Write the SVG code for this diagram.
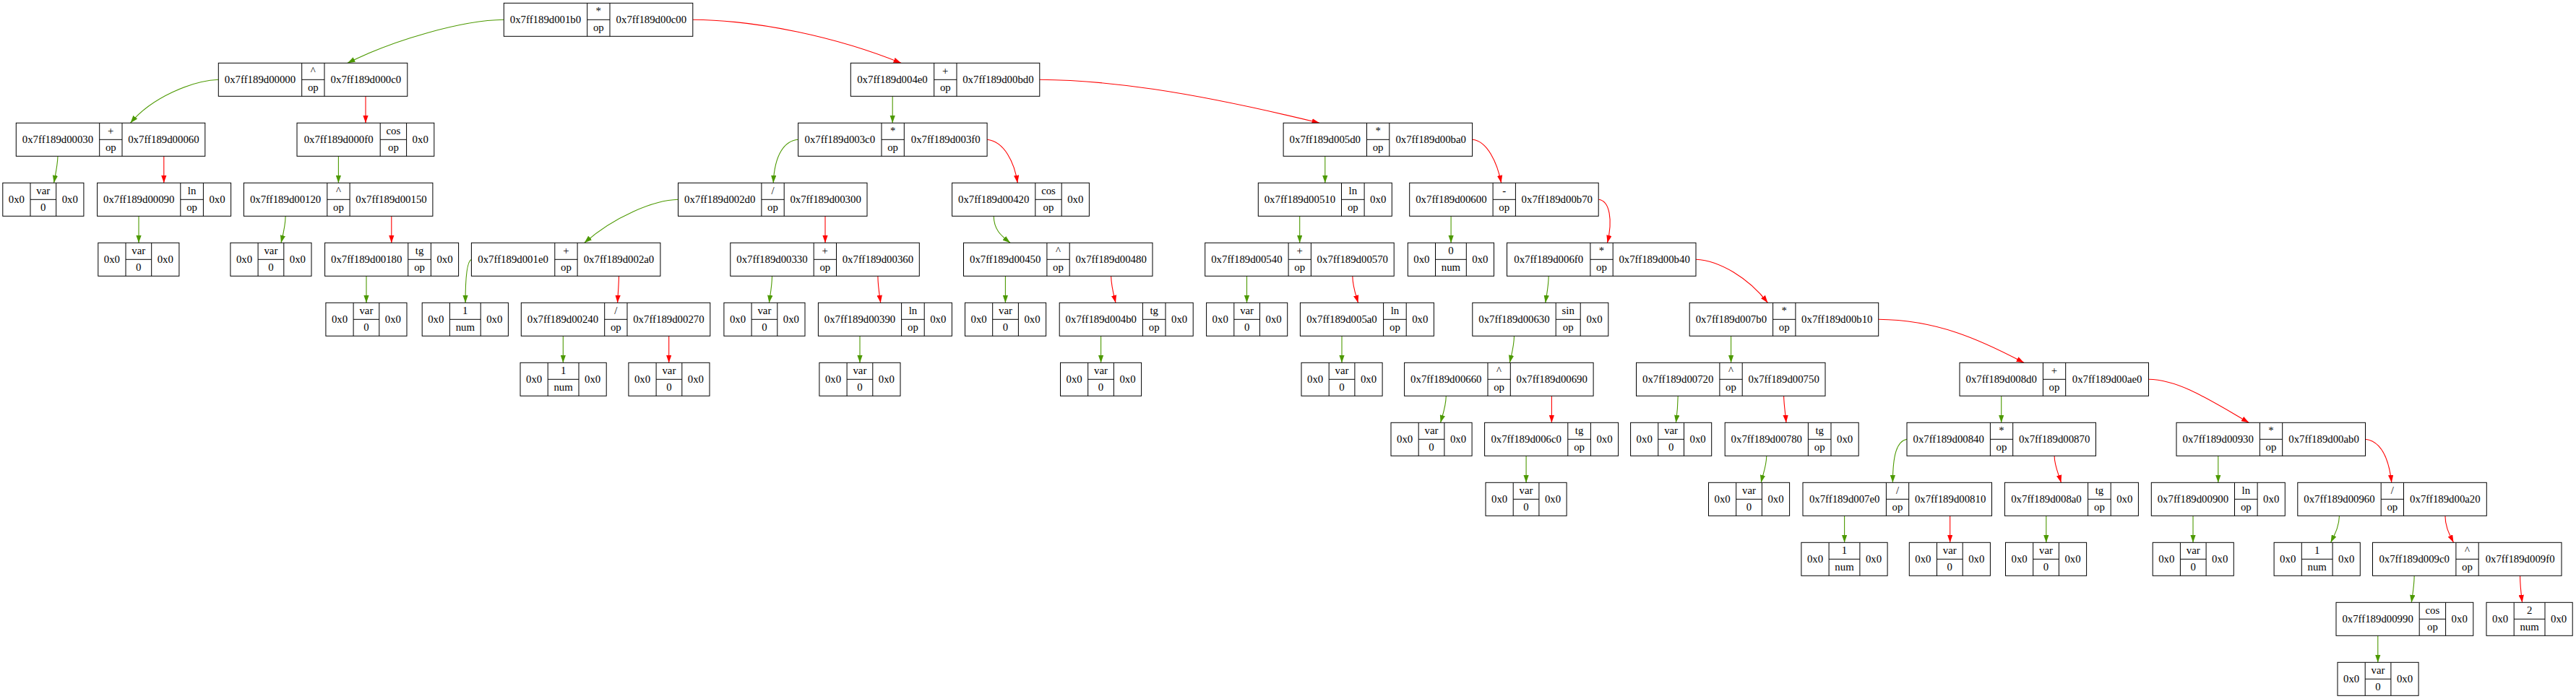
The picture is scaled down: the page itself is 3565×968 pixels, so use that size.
<svg xmlns="http://www.w3.org/2000/svg" xmlns:xlink="http://www.w3.org/1999/xlink" width="3565" height="968" viewBox="0 0 3565 968">
<style>
text{font-family:"Liberation Serif","Times New Roman",serif;font-size:14.8px;text-anchor:middle;fill:#000}
.g{fill:none;stroke:#4c9900;stroke-width:1.1;marker-end:url(#ag)}
.r{fill:none;stroke:#ff0000;stroke-width:1.1;marker-end:url(#ar)}
</style>
<defs>
<marker id="ag" viewBox="0 0 10 7" refX="10" refY="3.5" markerWidth="10.5" markerHeight="7.4" markerUnits="userSpaceOnUse" orient="auto"><path d="M0,0L10,3.5L0,7z" fill="#4c9900"/></marker>
<marker id="ar" viewBox="0 0 10 7" refX="10" refY="3.5" markerWidth="10.5" markerHeight="7.4" markerUnits="userSpaceOnUse" orient="auto"><path d="M0,0L10,3.5L0,7z" fill="#ff0000"/></marker>
<g id="fbin"><rect width="261.5" height="46" fill="#fff" stroke="#000"/><path d="M115.4,0V46M146.7,0V46M115.4,23H146.7" fill="none" stroke="#000"/></g>
<g id="fun"><rect width="185" height="46" fill="#fff" stroke="#000"/><path d="M115.2,0V46M146.8,0V46M115.2,23H146.8" fill="none" stroke="#000"/></g>
<g id="fcos"><rect width="189.8" height="46" fill="#fff" stroke="#000"/><path d="M115.2,0V46M151.6,0V46M115.2,23H151.6" fill="none" stroke="#000"/></g>
<g id="fsin"><rect width="188" height="46" fill="#fff" stroke="#000"/><path d="M115.4,0V46M149.4,0V46M115.4,23H149.4" fill="none" stroke="#000"/></g>
<g id="fvar"><rect width="112.1" height="46" fill="#fff" stroke="#000"/><path d="M38.2,0V46M73.9,0V46M38.2,23H73.9" fill="none" stroke="#000"/></g>
<g id="fnum"><rect width="119.2" height="46" fill="#fff" stroke="#000"/><path d="M38.2,0V46M81,0V46M38.2,23H81" fill="none" stroke="#000"/></g>
</defs>
<rect width="3565" height="968" fill="#fff"/>

<g id="edges">
<path class="g" d="M697.3,27.3C640,28 545,55 481,87.3"/>
<path class="r" d="M958.8,27.3C1050,28 1160,52 1247,87.3"/>
<path class="g" d="M302.3,110.3C265,112 210,135 180.5,170.3"/>
<path class="r" d="M506,133.3L506,170.3"/>
<path class="r" d="M1438.8,110.3C1530,111 1640,125 1826,170.3"/>
<path class="g" d="M1235.2,133.3L1235.2,170.3"/>
<path class="g" d="M80,216.3C79.5,230 77,240 74.6,253.3"/>
<path class="r" d="M226.8,216.3L226.8,253.3"/>
<path class="g" d="M468.4,216.3L468.4,253.3"/>
<path class="g" d="M1104.6,193.3C1085,195 1072,215 1070.2,253.3"/>
<path class="r" d="M1366.1,193.3C1390,196 1404,225 1408.2,253.3"/>
<path class="g" d="M1833.8,216.3L1833.8,253.3"/>
<path class="r" d="M2037.6,193.3C2058,195 2072,225 2077.6,253.3"/>
<path class="g" d="M192,299.3L192,336.3"/>
<path class="g" d="M395.1,299.3C395.1,312 392,324 389,336.3"/>
<path class="r" d="M541.8,299.3L541.8,336.3"/>
<path class="g" d="M938.5,276.3C905,277 850,300 808.7,336.3"/>
<path class="r" d="M1142,299.3L1142,336.3"/>
<path class="g" d="M1375.2,299.3C1375.5,318 1385,326 1398,336.3"/>
<path class="g" d="M1798.7,299.3L1798.7,336.3"/>
<path class="g" d="M2008.1,299.3L2008.1,336.3"/>
<path class="r" d="M2212.2,276.3C2228,278 2232,305 2224.5,336.3"/>
<path class="g" d="M507,382.3L507,419.3"/>
<path class="g" d="M652.4,359.3C646,362 644,390 644.1,419.3"/>
<path class="r" d="M856.5,382.3C856.3,395 855.3,405 854.6,419.3"/>
<path class="g" d="M1068.5,382.3C1068.3,397 1066,407 1064.4,419.3"/>
<path class="r" d="M1214.9,382.3C1215,397 1217,407 1218.7,419.3"/>
<path class="g" d="M1391.4,382.3L1391.4,419.3"/>
<path class="r" d="M1537.6,382.3C1538,397 1541,407 1544,419.3"/>
<path class="g" d="M1725.5,382.3L1725.5,419.3"/>
<path class="r" d="M1871.8,382.3C1872,397 1876,407 1879.5,419.3"/>
<path class="g" d="M2143.2,382.3C2143,397 2140.5,407 2138.8,419.3"/>
<path class="r" d="M2347,359.3C2380,361 2420,385 2446.4,419.3"/>
<path class="g" d="M779.3,465.3L779.3,502.3"/>
<path class="r" d="M925.7,465.3L925.7,502.3"/>
<path class="g" d="M1190,465.3L1190,502.3"/>
<path class="g" d="M1523.6,465.3L1523.6,502.3"/>
<path class="g" d="M1857,465.3L1857,502.3"/>
<path class="g" d="M2095.5,465.3C2095.3,480 2092,490 2089.3,502.3"/>
<path class="g" d="M2395.6,465.3L2395.6,502.3"/>
<path class="r" d="M2599.7,442.3C2680,443 2740,470 2801,502.3"/>
<path class="g" d="M2001.3,548.3C2001,563 1997,573 1993.6,585.3"/>
<path class="r" d="M2147.4,548.3L2147.4,585.3"/>
<path class="g" d="M2322.2,548.3C2322,563 2321,573 2319.4,585.3"/>
<path class="r" d="M2468.6,548.3C2469,563 2471,573 2471.9,585.3"/>
<path class="g" d="M2769.7,548.3L2769.7,585.3"/>
<path class="r" d="M2973.5,525.3C3015,526 3055,552 3112.3,585.3"/>
<path class="g" d="M2112.1,631.3L2112.1,668.3"/>
<path class="g" d="M2444.8,631.3C2444.5,646 2440,656 2437.2,668.3"/>
<path class="g" d="M2639,608.3C2625,611 2619.5,630 2619.4,668.3"/>
<path class="r" d="M2843.1,631.3C2843.3,646 2849,656 2852.4,668.3"/>
<path class="g" d="M3069.8,631.3L3069.8,668.3"/>
<path class="r" d="M3273.5,608.3C3295,611 3306,635 3309.8,668.3"/>
<path class="g" d="M2552.6,714.3L2552.6,751.3"/>
<path class="r" d="M2698.7,714.3L2698.7,751.3"/>
<path class="g" d="M2831.8,714.3L2831.8,751.3"/>
<path class="g" d="M3035,714.3L3035,751.3"/>
<path class="g" d="M3237.5,714.3C3237,730 3231,740 3225.6,751.3"/>
<path class="r" d="M3383.9,714.3C3384,730 3390,740 3395.5,751.3"/>
<path class="g" d="M3341.2,797.3C3341,812 3339,822 3337.3,834.3"/>
<path class="r" d="M3487.6,797.3C3487.6,812 3489,822 3490.6,834.3"/>
<path class="g" d="M3290.8,880.3L3290.8,917.3"/>
</g>

<g id="n001b0" transform="translate(697.3,4.3)"><use xlink:href="#fbin"/><text x="57.7" y="28">0x7ff189d001b0</text><text x="131" y="16">*</text><text x="131" y="39">op</text><text x="204.1" y="28">0x7ff189d00c00</text></g>
<g id="n00000" transform="translate(302.3,87.3)"><use xlink:href="#fbin"/><text x="57.7" y="28">0x7ff189d00000</text><text x="131" y="16">^</text><text x="131" y="39">op</text><text x="204.1" y="28">0x7ff189d000c0</text></g>
<g id="n004e0" transform="translate(1177.3,87.3)"><use xlink:href="#fbin"/><text x="57.7" y="28">0x7ff189d004e0</text><text x="131" y="16">+</text><text x="131" y="39">op</text><text x="204.1" y="28">0x7ff189d00bd0</text></g>
<g id="n00030" transform="translate(22.3,170.3)"><use xlink:href="#fbin"/><text x="57.7" y="28">0x7ff189d00030</text><text x="131" y="16">+</text><text x="131" y="39">op</text><text x="204.1" y="28">0x7ff189d00060</text></g>
<g id="n000f0" transform="translate(411,170.3)"><use xlink:href="#fcos"/><text x="57.6" y="28">0x7ff189d000f0</text><text x="133.4" y="16">cos</text><text x="133.4" y="39">op</text><text x="170.7" y="28">0x0</text></g>
<g id="n003c0" transform="translate(1104.6,170.3)"><use xlink:href="#fbin"/><text x="57.7" y="28">0x7ff189d003c0</text><text x="131" y="16">*</text><text x="131" y="39">op</text><text x="204.1" y="28">0x7ff189d003f0</text></g>
<g id="n005d0" transform="translate(1776.1,170.3)"><use xlink:href="#fbin"/><text x="57.7" y="28">0x7ff189d005d0</text><text x="131" y="16">*</text><text x="131" y="39">op</text><text x="204.1" y="28">0x7ff189d00ba0</text></g>

<g id="v1" transform="translate(3.8,253.3)"><use xlink:href="#fvar"/><text x="19.1" y="28">0x0</text><text x="56" y="16">var</text><text x="56" y="39">0</text><text x="93" y="28">0x0</text></g>
<g id="n00090" transform="translate(134.6,253.3)"><use xlink:href="#fun"/><text x="57.6" y="28">0x7ff189d00090</text><text x="131" y="16">ln</text><text x="131" y="39">op</text><text x="165.9" y="28">0x0</text></g>
<g id="n00120" transform="translate(337.4,253.3)"><use xlink:href="#fbin"/><text x="57.7" y="28">0x7ff189d00120</text><text x="131" y="16">^</text><text x="131" y="39">op</text><text x="204.1" y="28">0x7ff189d00150</text></g>
<g id="n002d0" transform="translate(938.5,253.3)"><use xlink:href="#fbin"/><text x="57.7" y="28">0x7ff189d002d0</text><text x="131" y="16">/</text><text x="131" y="39">op</text><text x="204.1" y="28">0x7ff189d00300</text></g>
<g id="n00420" transform="translate(1317.6,253.3)"><use xlink:href="#fcos"/><text x="57.6" y="28">0x7ff189d00420</text><text x="133.4" y="16">cos</text><text x="133.4" y="39">op</text><text x="170.7" y="28">0x0</text></g>
<g id="n00510" transform="translate(1741.3,253.3)"><use xlink:href="#fun"/><text x="57.6" y="28">0x7ff189d00510</text><text x="131" y="16">ln</text><text x="131" y="39">op</text><text x="165.9" y="28">0x0</text></g>
<g id="n00600" transform="translate(1950.7,253.3)"><use xlink:href="#fbin"/><text x="57.7" y="28">0x7ff189d00600</text><text x="131" y="16">-</text><text x="131" y="39">op</text><text x="204.1" y="28">0x7ff189d00b70</text></g>

<g id="v2" transform="translate(135.8,336.3)"><use xlink:href="#fvar"/><text x="19.1" y="28">0x0</text><text x="56" y="16">var</text><text x="56" y="39">0</text><text x="93" y="28">0x0</text></g>
<g id="v3" transform="translate(318.9,336.3)"><use xlink:href="#fvar"/><text x="19.1" y="28">0x0</text><text x="56" y="16">var</text><text x="56" y="39">0</text><text x="93" y="28">0x0</text></g>
<g id="n00180" transform="translate(449.6,336.3)"><use xlink:href="#fun"/><text x="57.6" y="28">0x7ff189d00180</text><text x="131" y="16">tg</text><text x="131" y="39">op</text><text x="165.9" y="28">0x0</text></g>
<g id="n001e0" transform="translate(652.4,336.3)"><use xlink:href="#fbin"/><text x="57.7" y="28">0x7ff189d001e0</text><text x="131" y="16">+</text><text x="131" y="39">op</text><text x="204.1" y="28">0x7ff189d002a0</text></g>
<g id="n00330" transform="translate(1010.8,336.3)"><use xlink:href="#fbin"/><text x="57.7" y="28">0x7ff189d00330</text><text x="131" y="16">+</text><text x="131" y="39">op</text><text x="204.1" y="28">0x7ff189d00360</text></g>
<g id="n00450" transform="translate(1333.5,336.3)"><use xlink:href="#fbin"/><text x="57.7" y="28">0x7ff189d00450</text><text x="131" y="16">^</text><text x="131" y="39">op</text><text x="204.1" y="28">0x7ff189d00480</text></g>
<g id="n00540" transform="translate(1667.7,336.3)"><use xlink:href="#fbin"/><text x="57.7" y="28">0x7ff189d00540</text><text x="131" y="16">+</text><text x="131" y="39">op</text><text x="204.1" y="28">0x7ff189d00570</text></g>
<g id="c1" transform="translate(1948.3,336.3)"><use xlink:href="#fnum"/><text x="19.1" y="28">0x0</text><text x="59.6" y="16">0</text><text x="59.6" y="39">num</text><text x="100.1" y="28">0x0</text></g>
<g id="n006f0" transform="translate(2085.5,336.3)"><use xlink:href="#fbin"/><text x="57.7" y="28">0x7ff189d006f0</text><text x="131" y="16">*</text><text x="131" y="39">op</text><text x="204.1" y="28">0x7ff189d00b40</text></g>

<g id="v4" transform="translate(450.9,419.3)"><use xlink:href="#fvar"/><text x="19.1" y="28">0x0</text><text x="56" y="16">var</text><text x="56" y="39">0</text><text x="93" y="28">0x0</text></g>
<g id="c2" transform="translate(584.2,419.3)"><use xlink:href="#fnum"/><text x="19.1" y="28">0x0</text><text x="59.6" y="16">1</text><text x="59.6" y="39">num</text><text x="100.1" y="28">0x0</text></g>
<g id="n00240" transform="translate(721.3,419.3)"><use xlink:href="#fbin"/><text x="57.7" y="28">0x7ff189d00240</text><text x="131" y="16">/</text><text x="131" y="39">op</text><text x="204.1" y="28">0x7ff189d00270</text></g>
<g id="v5" transform="translate(1001.9,419.3)"><use xlink:href="#fvar"/><text x="19.1" y="28">0x0</text><text x="56" y="16">var</text><text x="56" y="39">0</text><text x="93" y="28">0x0</text></g>
<g id="n00390" transform="translate(1132.4,419.3)"><use xlink:href="#fun"/><text x="57.6" y="28">0x7ff189d00390</text><text x="131" y="16">ln</text><text x="131" y="39">op</text><text x="165.9" y="28">0x0</text></g>
<g id="v6" transform="translate(1335.5,419.3)"><use xlink:href="#fvar"/><text x="19.1" y="28">0x0</text><text x="56" y="16">var</text><text x="56" y="39">0</text><text x="93" y="28">0x0</text></g>
<g id="n004b0" transform="translate(1466.2,419.3)"><use xlink:href="#fun"/><text x="57.6" y="28">0x7ff189d004b0</text><text x="131" y="16">tg</text><text x="131" y="39">op</text><text x="165.9" y="28">0x0</text></g>
<g id="v7" transform="translate(1669.6,419.3)"><use xlink:href="#fvar"/><text x="19.1" y="28">0x0</text><text x="56" y="16">var</text><text x="56" y="39">0</text><text x="93" y="28">0x0</text></g>
<g id="n005a0" transform="translate(1799.4,419.3)"><use xlink:href="#fun"/><text x="57.6" y="28">0x7ff189d005a0</text><text x="131" y="16">ln</text><text x="131" y="39">op</text><text x="165.9" y="28">0x0</text></g>
<g id="n00630" transform="translate(2037.8,419.3)"><use xlink:href="#fsin"/><text x="57.7" y="28">0x7ff189d00630</text><text x="132.4" y="16">sin</text><text x="132.4" y="39">op</text><text x="168.7" y="28">0x0</text></g>
<g id="n007b0" transform="translate(2338.2,419.3)"><use xlink:href="#fbin"/><text x="57.7" y="28">0x7ff189d007b0</text><text x="131" y="16">*</text><text x="131" y="39">op</text><text x="204.1" y="28">0x7ff189d00b10</text></g>

<g id="c3" transform="translate(720,502.3)"><use xlink:href="#fnum"/><text x="19.1" y="28">0x0</text><text x="59.6" y="16">1</text><text x="59.6" y="39">num</text><text x="100.1" y="28">0x0</text></g>
<g id="v8" transform="translate(869.9,502.3)"><use xlink:href="#fvar"/><text x="19.1" y="28">0x0</text><text x="56" y="16">var</text><text x="56" y="39">0</text><text x="93" y="28">0x0</text></g>
<g id="v9" transform="translate(1133.9,502.3)"><use xlink:href="#fvar"/><text x="19.1" y="28">0x0</text><text x="56" y="16">var</text><text x="56" y="39">0</text><text x="93" y="28">0x0</text></g>
<g id="v10" transform="translate(1467.5,502.3)"><use xlink:href="#fvar"/><text x="19.1" y="28">0x0</text><text x="56" y="16">var</text><text x="56" y="39">0</text><text x="93" y="28">0x0</text></g>
<g id="v11" transform="translate(1801,502.3)"><use xlink:href="#fvar"/><text x="19.1" y="28">0x0</text><text x="56" y="16">var</text><text x="56" y="39">0</text><text x="93" y="28">0x0</text></g>
<g id="n00660" transform="translate(1943.6,502.3)"><use xlink:href="#fbin"/><text x="57.7" y="28">0x7ff189d00660</text><text x="131" y="16">^</text><text x="131" y="39">op</text><text x="204.1" y="28">0x7ff189d00690</text></g>
<g id="n00720" transform="translate(2264.5,502.3)"><use xlink:href="#fbin"/><text x="57.7" y="28">0x7ff189d00720</text><text x="131" y="16">^</text><text x="131" y="39">op</text><text x="204.1" y="28">0x7ff189d00750</text></g>
<g id="n008d0" transform="translate(2712,502.3)"><use xlink:href="#fbin"/><text x="57.7" y="28">0x7ff189d008d0</text><text x="131" y="16">+</text><text x="131" y="39">op</text><text x="204.1" y="28">0x7ff189d00ae0</text></g>

<g id="v12" transform="translate(1925,585.3)"><use xlink:href="#fvar"/><text x="19.1" y="28">0x0</text><text x="56" y="16">var</text><text x="56" y="39">0</text><text x="93" y="28">0x0</text></g>
<g id="n006c0" transform="translate(2054.6,585.3)"><use xlink:href="#fun"/><text x="57.6" y="28">0x7ff189d006c0</text><text x="131" y="16">tg</text><text x="131" y="39">op</text><text x="165.9" y="28">0x0</text></g>
<g id="v13" transform="translate(2256.6,585.3)"><use xlink:href="#fvar"/><text x="19.1" y="28">0x0</text><text x="56" y="16">var</text><text x="56" y="39">0</text><text x="93" y="28">0x0</text></g>
<g id="n00780" transform="translate(2387.2,585.3)"><use xlink:href="#fun"/><text x="57.6" y="28">0x7ff189d00780</text><text x="131" y="16">tg</text><text x="131" y="39">op</text><text x="165.9" y="28">0x0</text></g>
<g id="n00840" transform="translate(2639,585.3)"><use xlink:href="#fbin"/><text x="57.7" y="28">0x7ff189d00840</text><text x="131" y="16">*</text><text x="131" y="39">op</text><text x="204.1" y="28">0x7ff189d00870</text></g>
<g id="n00930" transform="translate(3012,585.3)"><use xlink:href="#fbin"/><text x="57.7" y="28">0x7ff189d00930</text><text x="131" y="16">*</text><text x="131" y="39">op</text><text x="204.1" y="28">0x7ff189d00ab0</text></g>

<g id="v14" transform="translate(2056,668.3)"><use xlink:href="#fvar"/><text x="19.1" y="28">0x0</text><text x="56" y="16">var</text><text x="56" y="39">0</text><text x="93" y="28">0x0</text></g>
<g id="v15" transform="translate(2364.5,668.3)"><use xlink:href="#fvar"/><text x="19.1" y="28">0x0</text><text x="56" y="16">var</text><text x="56" y="39">0</text><text x="93" y="28">0x0</text></g>
<g id="n007e0" transform="translate(2495,668.3)"><use xlink:href="#fbin"/><text x="57.7" y="28">0x7ff189d007e0</text><text x="131" y="16">/</text><text x="131" y="39">op</text><text x="204.1" y="28">0x7ff189d00810</text></g>
<g id="n008a0" transform="translate(2774.4,668.3)"><use xlink:href="#fun"/><text x="57.6" y="28">0x7ff189d008a0</text><text x="131" y="16">tg</text><text x="131" y="39">op</text><text x="165.9" y="28">0x0</text></g>
<g id="n00900" transform="translate(2977.3,668.3)"><use xlink:href="#fun"/><text x="57.6" y="28">0x7ff189d00900</text><text x="131" y="16">ln</text><text x="131" y="39">op</text><text x="165.9" y="28">0x0</text></g>
<g id="n00960" transform="translate(3179.8,668.3)"><use xlink:href="#fbin"/><text x="57.7" y="28">0x7ff189d00960</text><text x="131" y="16">/</text><text x="131" y="39">op</text><text x="204.1" y="28">0x7ff189d00a20</text></g>

<g id="c4" transform="translate(2492.9,751.3)"><use xlink:href="#fnum"/><text x="19.1" y="28">0x0</text><text x="59.6" y="16">1</text><text x="59.6" y="39">num</text><text x="100.1" y="28">0x0</text></g>
<g id="v16" transform="translate(2642.3,751.3)"><use xlink:href="#fvar"/><text x="19.1" y="28">0x0</text><text x="56" y="16">var</text><text x="56" y="39">0</text><text x="93" y="28">0x0</text></g>
<g id="v17" transform="translate(2775.5,751.3)"><use xlink:href="#fvar"/><text x="19.1" y="28">0x0</text><text x="56" y="16">var</text><text x="56" y="39">0</text><text x="93" y="28">0x0</text></g>
<g id="v18" transform="translate(2979.2,751.3)"><use xlink:href="#fvar"/><text x="19.1" y="28">0x0</text><text x="56" y="16">var</text><text x="56" y="39">0</text><text x="93" y="28">0x0</text></g>
<g id="c5" transform="translate(3147.1,751.3)"><use xlink:href="#fnum"/><text x="19.1" y="28">0x0</text><text x="59.6" y="16">1</text><text x="59.6" y="39">num</text><text x="100.1" y="28">0x0</text></g>
<g id="n009c0" transform="translate(3283.5,751.3)"><use xlink:href="#fbin"/><text x="57.7" y="28">0x7ff189d009c0</text><text x="131" y="16">^</text><text x="131" y="39">op</text><text x="204.1" y="28">0x7ff189d009f0</text></g>

<g id="n00990" transform="translate(3233,834.3)"><use xlink:href="#fcos"/><text x="57.6" y="28">0x7ff189d00990</text><text x="133.4" y="16">cos</text><text x="133.4" y="39">op</text><text x="170.7" y="28">0x0</text></g>
<g id="c6" transform="translate(3441,834.3)"><use xlink:href="#fnum"/><text x="19.1" y="28">0x0</text><text x="59.6" y="16">2</text><text x="59.6" y="39">num</text><text x="100.1" y="28">0x0</text></g>

<g id="v19" transform="translate(3235,917.3)"><use xlink:href="#fvar"/><text x="19.1" y="28">0x0</text><text x="56" y="16">var</text><text x="56" y="39">0</text><text x="93" y="28">0x0</text></g>
</svg>
